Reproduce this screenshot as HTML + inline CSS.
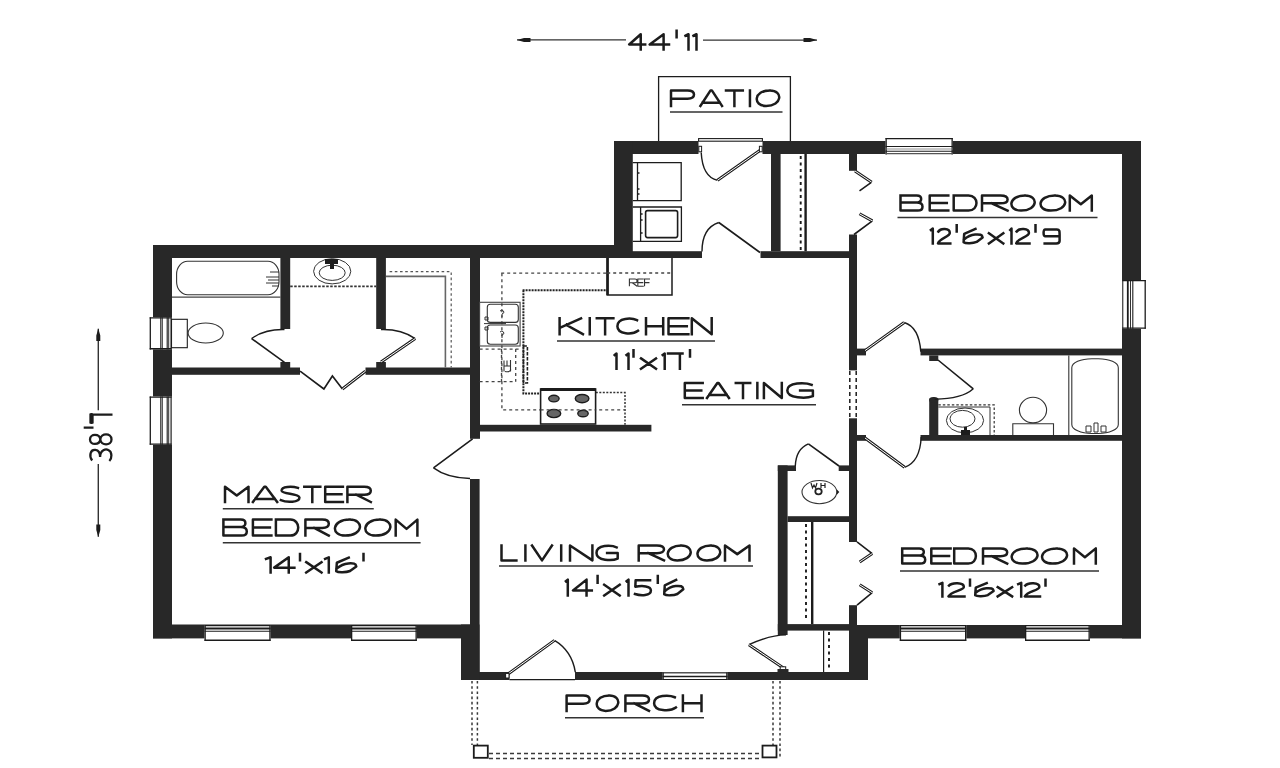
<!DOCTYPE html>
<html><head><meta charset="utf-8"><style>html,body{margin:0;padding:0;background:#fff;width:1280px;height:768px;overflow:hidden}svg{display:block}</style></head>
<body><svg width="1280" height="768" viewBox="0 0 1280 768"><g fill="#282828"><rect x="153" y="245" width="479" height="13"/><rect x="153" y="245" width="19" height="393.4"/><rect x="153" y="624.5" width="326" height="13.9"/><rect x="461" y="624.5" width="18.5" height="55.5"/><rect x="461" y="672" width="48.5" height="8"/><rect x="575" y="672" width="293" height="8"/><rect x="849" y="625" width="19" height="55"/><rect x="849" y="625" width="292" height="13.4"/><rect x="1122" y="141" width="19" height="497.4"/><rect x="614" y="141" width="84.5" height="13"/><rect x="762.5" y="141" width="378.5" height="13"/><rect x="614" y="141" width="18.8" height="117"/><rect x="280.4" y="258" width="9.8" height="71"/><rect x="376.2" y="258" width="9.7" height="71"/><rect x="280.4" y="362" width="9.8" height="6"/><rect x="376.2" y="362" width="9.7" height="6"/><rect x="172" y="367.5" width="128" height="7.3"/><rect x="365.5" y="367.5" width="104.5" height="7.3"/><rect x="470" y="258" width="10" height="180.8"/><rect x="470" y="479" width="9.6" height="201"/><rect x="470" y="424.8" width="181.4" height="6.7"/><rect x="632" y="251.2" width="70" height="6.8"/><rect x="760.5" y="251.2" width="96.5" height="6.8"/><rect x="771" y="154" width="9.6" height="97.2"/><rect x="849" y="154" width="8" height="16.8"/><rect x="849" y="234.5" width="8" height="135.9"/><rect x="849" y="418.3" width="8" height="123.7"/><rect x="849" y="605.2" width="8" height="19.8"/><rect x="920.5" y="348.6" width="201.5" height="6.8"/><rect x="857" y="348.6" width="9" height="6.8"/><rect x="920.5" y="435" width="201.5" height="5.8"/><rect x="857" y="435" width="9" height="5.8"/><rect x="929.2" y="398.5" width="9.1" height="36.5"/><rect x="929.2" y="355.4" width="9.1" height="5.6"/><rect x="777.8" y="465.4" width="9.8" height="169.6"/><rect x="777.8" y="465.4" width="18.2" height="5.6"/><rect x="838.7" y="465.4" width="10.3" height="5.6"/><rect x="787.6" y="516.2" width="61.4" height="5.8"/><rect x="777.8" y="624.1" width="71.2" height="6.5"/></g><rect x="929.2" y="397" width="9.1" height="6" rx="4" fill="#282828"/><rect x="885.5" y="138" width="67.3" height="16.4" fill="#fff"/><path d="M886.15 138V154.4M952.15 138V154.4" stroke="#1c1c1c" stroke-width="1.3"/><path d="M885.5 138.6H952.8" stroke="#1c1c1c" stroke-width="1.3"/><path d="M885.5 146.5H952.8" stroke="#1c1c1c" stroke-width="1.1"/><path d="M885.5 149H952.8" stroke="#777" stroke-width="0.8"/><path d="M885.5 151.3H952.8" stroke="#1c1c1c" stroke-width="1.1"/><path d="M885.5 153.7H952.8" stroke="#555" stroke-width="1.2"/><rect x="204.5" y="625" width="66.1" height="16" fill="#fff"/><path d="M205.15 625V641M269.95 625V641" stroke="#1c1c1c" stroke-width="1.3"/><path d="M204.5 625.6H270.6" stroke="#1c1c1c" stroke-width="1.1"/><path d="M204.5 628.4H270.6" stroke="#1c1c1c" stroke-width="2"/><path d="M204.5 631.3H270.6" stroke="#1c1c1c" stroke-width="1.1"/><path d="M204.5 640.2H270.6" stroke="#1c1c1c" stroke-width="1.4"/><rect x="351" y="625" width="65.8" height="16" fill="#fff"/><path d="M351.65 625V641M416.15 625V641" stroke="#1c1c1c" stroke-width="1.3"/><path d="M351 625.6H416.8" stroke="#1c1c1c" stroke-width="1.1"/><path d="M351 628.4H416.8" stroke="#1c1c1c" stroke-width="2"/><path d="M351 631.3H416.8" stroke="#1c1c1c" stroke-width="1.1"/><path d="M351 640.2H416.8" stroke="#1c1c1c" stroke-width="1.4"/><rect x="899.8" y="625" width="66.5" height="16" fill="#fff"/><path d="M900.45 625V641M965.65 625V641" stroke="#1c1c1c" stroke-width="1.3"/><path d="M899.8 625.6H966.3" stroke="#1c1c1c" stroke-width="1.1"/><path d="M899.8 628.4H966.3" stroke="#1c1c1c" stroke-width="2"/><path d="M899.8 631.3H966.3" stroke="#1c1c1c" stroke-width="1.1"/><path d="M899.8 640.2H966.3" stroke="#1c1c1c" stroke-width="1.4"/><rect x="1025" y="625" width="64.8" height="16" fill="#fff"/><path d="M1025.65 625V641M1089.15 625V641" stroke="#1c1c1c" stroke-width="1.3"/><path d="M1025 625.6H1089.8" stroke="#1c1c1c" stroke-width="1.1"/><path d="M1025 628.4H1089.8" stroke="#1c1c1c" stroke-width="2"/><path d="M1025 631.3H1089.8" stroke="#1c1c1c" stroke-width="1.1"/><path d="M1025 640.2H1089.8" stroke="#1c1c1c" stroke-width="1.4"/><rect x="662.5" y="672.4" width="65" height="7.6" fill="#fff"/><path d="M663.15 672.4V680M726.85 672.4V680" stroke="#1c1c1c" stroke-width="1.3"/><path d="M662.5 672.9H727.5" stroke="#1c1c1c" stroke-width="1"/><path d="M662.5 676.5H727.5" stroke="#1c1c1c" stroke-width="1.6"/><path d="M662.5 679.5H727.5" stroke="#1c1c1c" stroke-width="1"/><rect x="1122.2" y="280" width="23.6" height="48.8" fill="#fff"/><path d="M1122.2 280.65H1145.8M1122.2 328.15H1145.8" stroke="#1c1c1c" stroke-width="1.3"/><path d="M1122.8 280V328.8" stroke="#1c1c1c" stroke-width="1"/><path d="M1127.8 280V328.8" stroke="#1c1c1c" stroke-width="1.8"/><path d="M1130.5 280V328.8" stroke="#1c1c1c" stroke-width="0.9"/><path d="M1132.8 280V328.8" stroke="#1c1c1c" stroke-width="1.1"/><path d="M1145.2 280V328.8" stroke="#1c1c1c" stroke-width="1.3"/><rect x="149.7" y="317.2" width="21.9" height="32.2" fill="#fff"/><path d="M149.7 317.85H171.6M149.7 348.75H171.6" stroke="#1c1c1c" stroke-width="1.3"/><path d="M150.3 317.2V349.4" stroke="#1c1c1c" stroke-width="1.3"/><path d="M160.8 317.2V349.4" stroke="#1c1c1c" stroke-width="1.1"/><path d="M162.3 317.2V349.4" stroke="#1c1c1c" stroke-width="0.9"/><path d="M167.2 317.2V349.4" stroke="#1c1c1c" stroke-width="1.1"/><path d="M168.7 317.2V349.4" stroke="#1c1c1c" stroke-width="0.9"/><path d="M171 317.2V349.4" stroke="#1c1c1c" stroke-width="1"/><rect x="149.7" y="396.4" width="21.9" height="48.4" fill="#fff"/><path d="M149.7 397.05H171.6M149.7 444.15H171.6" stroke="#1c1c1c" stroke-width="1.3"/><path d="M150.3 396.4V444.8" stroke="#1c1c1c" stroke-width="1.3"/><path d="M160.8 396.4V444.8" stroke="#1c1c1c" stroke-width="1.1"/><path d="M162.3 396.4V444.8" stroke="#1c1c1c" stroke-width="0.9"/><path d="M167.2 396.4V444.8" stroke="#1c1c1c" stroke-width="1.1"/><path d="M168.7 396.4V444.8" stroke="#1c1c1c" stroke-width="0.9"/><path d="M171 396.4V444.8" stroke="#1c1c1c" stroke-width="1"/><path d="M760 252.5L718.8 222.5 M284.5 362.3L251.6 338.6 M300.1 371.2L323.9 389L332.4 376L342.4 389 M472.6 438.8L433.5 467.9 M938 360L973.3 388.8 M839 466L808.4 443.9 M871.7 182.2L859.5 190.8 M872.4 220.9L854 234.5 M857 541.9L872.2 553.6 M872.2 592.7L857 605.2" fill="none" stroke="#1c1c1c" stroke-width="1.6"/><path d="M717.5 180.3Q702.5 177 701.2 152.5 M718.8 222.5Q702 228 702 251.5 M251.6 338.6Q265 329 284.5 329.6 M415.2 338.6Q401 329 381 329.6 M433.5 467.9Q447 478 470 478.5 M904.2 322.5Q919 327 920.8 351.7 M973.3 388.8Q962 399 934.8 399.2 M904.6 467.3Q920 462 921.2 437 M808.4 443.9Q796 449 795.3 466 M748.9 644.7Q770 635 786 634.9 M554.5 640.4Q572 651 575.3 672.1" fill="none" stroke="#1c1c1c" stroke-width="1.4"/><path d="M760.5 150L717.5 180.3 M381 362L415.2 338.6 M342.4 389L365.4 371.2 M865 350.6L904.2 322.5 M865 438L904.6 467.3 M783.4 667.9L748.9 644.7 M508 674L554.5 640.4 M855 171L871.7 182.2 M859.5 213.8L872.4 220.9 M872.2 553.6L859.7 561.9 M859.7 584.8L872.2 592.7" fill="none" stroke="#1c1c1c" stroke-width="3"/><path d="M760.5 150L717.5 180.3 M381 362L415.2 338.6 M342.4 389L365.4 371.2 M865 350.6L904.2 322.5 M865 438L904.6 467.3 M783.4 667.9L748.9 644.7 M508 674L554.5 640.4 M855 171L871.7 182.2 M859.5 213.8L872.4 220.9 M872.2 553.6L859.7 561.9 M859.7 584.8L872.2 592.7" fill="none" stroke="#fff" stroke-width="1"/><g fill="#fff" stroke="#1c1c1c" stroke-width="1"><rect x="698.8" y="146.3" width="2.8" height="5.5"/><rect x="759.4" y="146.3" width="2.8" height="5.5"/><rect x="505.6" y="673.4" width="3.4" height="4.6"/><rect x="780.2" y="666.8" width="5.5" height="4.5"/></g><rect x="777.5" y="669" width="11" height="3.5" fill="#282828"/><rect x="698.6" y="138.6" width="63.8" height="2.6" fill="#fff" stroke="#1c1c1c" stroke-width="1.1"/><path d="M509.5 679.6H575" stroke="#1c1c1c" stroke-width="1.2"/><path d="M658.6 141V76.6H790.4V141" fill="none" stroke="#1c1c1c" stroke-width="1.3"/><path d="M517 39.9H626M703 40.1H817M98.3 328.7V410.3M98.3 464V536.7" stroke="#333" stroke-width="1.4"/><path d="M517 40L524 38H530.5V42H524Z M817 40.1L810 38.1H803.5V42.1H810Z M98.3 328.5L96.3 335.5V341H100.3V335.5Z M98.3 537L96.3 530V524.5H100.3V530Z" fill="#1c1c1c"/><path d="M472 681V745M477.4 681V745M773 681V745M780 681V757" fill="none" stroke="#3a3a3a" stroke-width="1.5" stroke-dasharray="2.6 2.6"/><path d="M489 753.4H762M489 758.4H762" fill="none" stroke="#3a3a3a" stroke-width="1.5" stroke-dasharray="4 3"/><g fill="#fff" stroke="#1c1c1c" stroke-width="1.8"><rect x="473.8" y="745.6" width="14" height="12.2"/><rect x="762.5" y="745.6" width="14" height="11.8"/></g><path d="M632.8 162.6H681.2V200.6H632.8M637.5 162.6V200.6M632.8 207H681.4V241.3H632.8M640.6 207V241.3" fill="none" stroke="#1c1c1c" stroke-width="1.3"/><rect x="645.6" y="210.6" width="32" height="27" rx="2" fill="none" stroke="#1c1c1c" stroke-width="1.6"/><path d="M637.5 173h2M637.5 189h2M637.5 194h2M640.6 214h2M640.6 220h2M640.6 233h2" stroke="#1c1c1c" stroke-width="1.5"/><path d="M607.2 258V295H672V258" fill="none" stroke="#1c1c1c" stroke-width="1.5"/><path d="M607.6 258V295" stroke="#1c1c1c" stroke-width="2.6"/><path d="M607.2 273H672M501.2 273.2H607" fill="none" stroke="#444" stroke-width="1.3" stroke-dasharray="3 3"/><path d="M386 276.4H445.4V367.5" fill="none" stroke="#666" stroke-width="1.6"/><path d="M389.6 271.6H451.2V367.5" fill="none" stroke="#555" stroke-width="1.2" stroke-dasharray="2.6 2.6"/><path d="M172 297.1H280.4" stroke="#444" stroke-width="1.3"/><rect x="176.6" y="261.3" width="102.4" height="33.4" rx="11" ry="13" fill="none" stroke="#333" stroke-width="1.1"/><path d="M266 277h13M268 280h11M266 283h13M270 272h9M272 286h7" stroke="#333" stroke-width="1"/><rect x="171.5" y="319.3" width="15.8" height="28.4" fill="#fff" stroke="#1c1c1c" stroke-width="1.1"/><ellipse cx="205.7" cy="333" rx="17.6" ry="10" fill="none" stroke="#333" stroke-width="1.1"/><path d="M290.2 286.4H376.2" stroke="#333" stroke-width="1.6" stroke-dasharray="2.5 1.5"/><ellipse cx="332.2" cy="271.3" rx="18.6" ry="12.6" fill="none" stroke="#333" stroke-width="1"/><ellipse cx="332.2" cy="272.8" rx="13" ry="7.6" fill="none" stroke="#333" stroke-width="1"/><path d="M325 259h13v5h-4v5h-4v-5h-5z" fill="#1c1c1c"/><path d="M522.6 290.2H607M523.4 290.2V393.5H540.2" fill="none" stroke="#222" stroke-width="2" stroke-dasharray="2 1"/><rect x="523.4" y="346" width="4" height="37" fill="none" stroke="#222" stroke-width="1.6" stroke-dasharray="3.5 1.5"/><path d="M501.9 273.2V409.9H624.5M479.6 349.1H520M479.6 381.7H515.7M501.5 349.1V381.7M515.7 349.1V381.7" fill="none" stroke="#444" stroke-width="1.3" stroke-dasharray="3 3"/><path d="M595.8 392.6H625V424.8" fill="none" stroke="#333" stroke-width="1.5" stroke-dasharray="2 1.5"/><rect x="479.6" y="302.3" width="40.5" height="43.7" fill="none" stroke="#444" stroke-width="1.1"/><rect x="487.3" y="304.2" width="31" height="18.2" rx="3" fill="none" stroke="#333" stroke-width="1.1"/><rect x="487.3" y="325" width="31" height="19.2" rx="3" fill="none" stroke="#333" stroke-width="1.1"/><path d="M484 323.6h22M485 317h3v3h-3zM485 327h3v3h-3z" fill="none" stroke="#333" stroke-width="1"/><path d="M500 311q2-2 3.5 0t-1.5 3v3M500 332q2-2 3.5 0t-1.5 3v3" fill="none" stroke="#333" stroke-width="1"/><path d="M504 371.5V360.5M504 366h6.5M507 360.5v6M510.5 360v11.5M505 371.5q5 1 6-2" fill="none" stroke="#333" stroke-width="1.1"/><rect x="540.6" y="389" width="55" height="35" fill="#fff" stroke="#1c1c1c" stroke-width="1.6"/><path d="M540.6 389.5H595.6" stroke="#1c1c1c" stroke-width="3"/><g fill="#666" stroke="#1c1c1c" stroke-width="1.4"><ellipse cx="553.9" cy="398.6" rx="5.2" ry="3.3"/><ellipse cx="582.1" cy="398.6" rx="6.8" ry="4.1"/><ellipse cx="553.9" cy="413.5" rx="6.8" ry="4.1"/><ellipse cx="583" cy="413.5" rx="5.2" ry="3.3"/></g><path d="M540.6 409.9H595.6" stroke="#444" stroke-width="1.1" stroke-dasharray="3 3"/><path d="M805.6 154V251.2" stroke="#1c1c1c" stroke-width="2.4"/><path d="M800.7 156V250" stroke="#1c1c1c" stroke-width="1.9" stroke-dasharray="3 3.5"/><path d="M812.2 522V624.1" stroke="#1c1c1c" stroke-width="2.4"/><path d="M806 524V621" stroke="#1c1c1c" stroke-width="1.9" stroke-dasharray="3 3.5"/><path d="M823.6 630.6V672" stroke="#1c1c1c" stroke-width="1.2"/><path d="M829 632V668" stroke="#1c1c1c" stroke-width="1.9" stroke-dasharray="3 3.5"/><path d="M849.8 371V418M856.2 371V418" stroke="#1c1c1c" stroke-width="1.5" stroke-dasharray="4 3"/><ellipse cx="819.4" cy="492.1" rx="17.4" ry="11.6" fill="none" stroke="#333" stroke-width="1.1"/><path d="M836.8 489.5l2.5 2.6l-2.5 2.6z" fill="#1c1c1c"/><path d="M811 483l1.5 5l1.5-3l1.5 3l1.5-5M821 483v5M825 483v5M821 485.5h4" fill="none" stroke="#222" stroke-width="1.2"/><ellipse cx="818.5" cy="491.5" rx="3.2" ry="2.8" fill="none" stroke="#222" stroke-width="1.8"/><path d="M938.3 404.8H994.2V435" fill="none" stroke="#333" stroke-width="1.2" stroke-dasharray="2.5 2"/><path d="M938.3 407H990V435" fill="none" stroke="#333" stroke-width="1"/><ellipse cx="965" cy="420.4" rx="18.6" ry="12.4" fill="none" stroke="#333" stroke-width="1"/><ellipse cx="962.5" cy="418.8" rx="12.5" ry="8.4" fill="none" stroke="#333" stroke-width="1"/><path d="M961 430h9v5h-9zM964 427h3v3h-3z" fill="#1c1c1c"/><ellipse cx="1033" cy="410.1" rx="13.6" ry="12.8" fill="none" stroke="#333" stroke-width="1.1"/><path d="M1012.8 435V423.8H1053.5V435" fill="none" stroke="#333" stroke-width="1.1"/><path d="M1068.8 355.4V435" stroke="#333" stroke-width="1.1"/><rect x="1071.8" y="358.7" width="46.5" height="74.8" rx="20" ry="9" fill="none" stroke="#333" stroke-width="1.1"/><path d="M1086 426h5v6h-5zM1094 423h4v9h-4zM1101 426h5v6h-5z" fill="none" stroke="#333" stroke-width="1"/><path d="M671 105.9 L671 90.4 L687.56 90.4 Q694 90.4 694 94.59 Q694 98.77 687.56 98.77 L671 98.77 M700.4 105.9 L710.55 90.4 L711.85 90.4 L722 105.9 M702.56 102.8 L719.84 102.8 M726 90.4 L742.8 90.4 M734.4 90.4 L734.4 105.9 M749.95 90.4 L749.95 105.9 M769.92 90.4 C783.36 90.4 782.4 105.9 766.08 105.9 C752.64 105.9 753.6 90.4 769.92 90.4 M900.5 195.5 L900.5 210.6 L917.66 210.6 Q922.5 210.6 922.5 206.67 Q922.5 202.6 916.78 202.6 L900.5 202.6 M900.5 195.5 L916.78 195.5 Q921.18 195.5 921.18 198.97 Q921.18 202.6 915.9 202.6 M948.3 195.5 L929.7 195.5 L929.7 210.6 L948.3 210.6 M929.7 203.05 L946.81 203.05 M953.7 195.5 L953.7 210.6 L968.52 210.6 C979.14 210.6 979.14 195.5 968.52 195.5 L953.7 195.5 M982 210.6 L982 195.5 L1000.43 195.5 Q1007.6 195.5 1007.6 199.43 Q1007.6 203.35 1000.43 203.35 L982 203.35 M991.73 203.35 L1007.6 210.6 M1025.04 195.5 C1038.99 195.5 1037.99 210.6 1021.06 210.6 C1007.11 210.6 1008.11 195.5 1025.04 195.5 M1054.95 195.5 C1069.68 195.5 1068.63 210.6 1050.75 210.6 C1036.02 210.6 1037.07 195.5 1054.95 195.5 M1069.8 210.6 L1069.8 195.5 L1080.8 204.26 L1091.8 195.5 L1091.8 210.6 M930.9 229.99 L932.8 228.5 L932.8 243.4 M938.37 231.48 C940.46 228.05 949.81 227.75 949.81 232.97 C949.81 236.84 939.85 237.74 938 243.4 L950.3 243.4 M956.7 225.22 L956.7 231.48 M975.48 228.8 L964.19 233.86 L963.6 242.21 C965.58 243.7 973.1 243.4 976.66 241.91 L982.6 237.44 C982.21 234.46 980.03 234.16 975.08 234.46 C971.12 234.76 967.16 236.69 963.99 239.53 M988.9 233.27 L1003.3 243.4 M1003.3 233.27 L988.9 243.4 M1010.2 229.99 L1011.5 228.5 L1011.5 243.4 M1016.6 231.48 C1018.86 228.05 1028.97 227.75 1028.97 232.97 C1028.97 236.84 1018.2 237.74 1016.2 243.4 L1029.5 243.4 M1035.5 225.22 L1035.5 231.48 M1059.6 236.25 L1045.32 236.25 C1043 236.25 1043 229.39 1045.32 229.39 L1056.94 229.39 C1059.6 229.39 1059.6 231.48 1059.6 234.46 L1059.6 241.02 C1059.6 243.4 1057.94 243.4 1056.28 243.4 L1044.66 243.4 M559.6 318.3 L559.6 334.2 M581.04 318.3 L560.3 327.52 M566.59 324.98 L582.9 334.2 M589.75 318.3 L589.75 334.2 M596.8 318.3 L613.4 318.3 M605.1 318.3 L605.1 334.2 M636.97 320.21 C631.82 317.66 617.4 317.35 617.4 326.25 C617.4 334.84 632.85 334.84 638 330.7 M646 318.3 L646 334.2 M663.2 318.3 L663.2 334.2 M646 326.25 L663.2 326.25 M688.4 318.3 L668.5 318.3 L668.5 334.2 L688.4 334.2 M668.5 326.25 L686.81 326.25 M691.8 334.2 L691.8 318.3 L711.7 334.2 L711.7 318.3 M614.7 355.03 L616.5 353.5 L616.5 368.8 M626.5 355.03 L628.5 353.5 L628.5 368.8 M633.5 350.13 L633.5 356.56 M641 358.4 L656 368.8 M656 358.4 L641 368.8 M662.7 355.03 L664.7 353.5 L664.7 368.8 M668 353.5 L682.5 353.5 M679.89 353.5 L679.89 368.8 M690 350.13 L690 356.56 M702.7 383 L684.8 383 L684.8 398 L702.7 398 M684.8 390.5 L701.27 390.5 M707 398 L717.34 383 L718.66 383 L729 398 M709.2 395 L726.8 395 M735.8 383 L750.2 383 M743 383 L743 398 M757.35 383 L757.35 398 M763.9 398 L763.9 383 L781.8 398 L781.8 383 M811.62 384.8 C805.22 382.4 787.3 382.1 787.3 390.5 C787.3 398.6 806.5 398.6 812.9 396.2 L812.9 390.5 L800.1 390.5 M225 502 L225 486.7 L236.75 495.57 L248.5 486.7 L248.5 502 M252.9 502 L264.32 486.7 L265.78 486.7 L277.2 502 M255.33 498.94 L274.77 498.94 M297.92 487.92 C292 486.09 281.27 486.39 281.64 490.68 C282.38 494.35 298.66 493.13 299.4 497.41 C299.77 502.61 286.45 502.61 280.9 500.16 M304.3 486.7 L320.3 486.7 M312.3 486.7 L312.3 502 M342.9 486.7 L325.2 486.7 L325.2 502 L342.9 502 M325.2 494.35 L341.48 494.35 M347.4 502 L347.4 486.7 L364.25 486.7 Q370.8 486.7 370.8 490.68 Q370.8 494.66 364.25 494.66 L347.4 494.66 M356.29 494.66 L370.8 502 M223.4 519.6 L223.4 535.6 L241.65 535.6 Q246.8 535.6 246.8 531.44 Q246.8 527.12 240.72 527.12 L223.4 527.12 M223.4 519.6 L240.72 519.6 Q245.4 519.6 245.4 523.28 Q245.4 527.12 239.78 527.12 M271.4 519.6 L252.9 519.6 L252.9 535.6 L271.4 535.6 M252.9 527.6 L269.92 527.6 M275.9 519.6 L275.9 535.6 L290.42 535.6 C300.83 535.6 300.83 519.6 290.42 519.6 L275.9 519.6 M305.4 535.6 L305.4 519.6 L322.25 519.6 Q328.8 519.6 328.8 523.76 Q328.8 527.92 322.25 527.92 L305.4 527.92 M314.29 527.92 L328.8 535.6 M349.59 519.6 C364.54 519.6 363.47 535.6 345.31 535.6 C330.36 535.6 331.43 519.6 349.59 519.6 M379.99 519.6 C394.94 519.6 393.87 535.6 375.71 535.6 C360.76 535.6 361.83 519.6 379.99 519.6 M395.7 535.6 L395.7 519.6 L406.55 528.88 L417.4 519.6 L417.4 535.6 M266 558.82 L270.6 557.3 L270.6 572.5 M288.74 572.5 L288.74 557.3 L274.2 567.64 L294.4 567.64 M300 553.96 L300 560.34 M306.2 562.16 L321.5 572.5 M321.5 562.16 L306.2 572.5 M325.1 558.82 L328.8 557.3 L328.8 572.5 M348.76 557.6 L336.85 562.77 L336.22 571.28 C338.31 572.8 346.25 572.5 350.01 570.98 L356.28 566.42 C355.86 563.38 353.56 563.08 348.34 563.38 C344.16 563.68 339.98 565.66 336.64 568.55 M363.5 553.96 L363.5 560.34 M501.5 545.5 L501.5 560.4 L516.4 560.4 M525.4 545.5 L525.4 560.4 M532 545.5 L542 560.4 L552 545.5 M561.2 545.5 L561.2 560.4 M570 560.4 L570 545.5 L592.4 560.4 L592.4 545.5 M616.64 547.29 C611.34 544.9 596.5 544.61 596.5 552.95 C596.5 561 612.4 561 617.7 558.61 L617.7 552.95 L607.1 552.95 M638.7 560.4 L638.7 545.5 L656.92 545.5 Q664 545.5 664 549.37 Q664 553.25 656.92 553.25 L638.7 553.25 M648.31 553.25 L664 560.4 M681.21 545.5 C694.93 545.5 693.95 560.4 677.29 560.4 C663.57 560.4 664.55 545.5 681.21 545.5 M710.79 545.5 C724.4 545.5 723.43 560.4 706.91 560.4 C693.3 560.4 694.27 545.5 710.79 545.5 M725 560.4 L725 545.5 L737.25 554.14 L749.5 545.5 L749.5 560.4 M565.9 581.2 L567.8 579.6 L567.8 595.6 M586.54 595.6 L586.54 579.6 L573 590.48 L591.8 590.48 M597.6 576.08 L597.6 582.8 M604.2 584.72 L619.7 595.6 M619.7 584.72 L604.2 595.6 M626.6 581.2 L628.5 579.6 L628.5 595.6 M650.07 580.24 L635.63 580.24 L635.3 586.8 C642.6 585.36 650.9 586 650.9 590.48 C650.9 595.92 640.94 595.92 634.96 594 M657.8 576.08 L657.8 582.8 M676.14 579.92 L664.79 585.36 L664.2 594.32 C666.19 595.92 673.75 595.6 677.33 594 L683.3 589.2 C682.9 586 680.72 585.68 675.74 586 C671.76 586.32 667.78 588.4 664.6 591.44 M902.2 548.4 L902.2 563.6 L920.14 563.6 Q925.2 563.6 925.2 559.65 Q925.2 555.54 919.22 555.54 L902.2 555.54 M902.2 548.4 L919.22 548.4 Q923.82 548.4 923.82 551.9 Q923.82 555.54 918.3 555.54 M950.6 548.4 L931.3 548.4 L931.3 563.6 L950.6 563.6 M931.3 556 L949.06 556 M954.2 548.4 L954.2 563.6 L968.3 563.6 C978.41 563.6 978.41 548.4 968.3 548.4 L954.2 548.4 M983 563.6 L983 548.4 L1000.42 548.4 Q1007.2 548.4 1007.2 552.35 Q1007.2 556.3 1000.42 556.3 L983 556.3 M992.2 556.3 L1007.2 563.6 M1026.81 548.4 C1042.26 548.4 1041.16 563.6 1022.39 563.6 C1006.94 563.6 1008.04 548.4 1026.81 548.4 M1056.69 548.4 C1071.64 548.4 1070.57 563.6 1052.41 563.6 C1037.46 563.6 1038.53 548.4 1056.69 548.4 M1074 563.6 L1074 548.4 L1084.9 557.22 L1095.8 548.4 L1095.8 563.6 M939.5 584.16 L942.4 582.8 L942.4 596.4 M948.98 585.52 C951.7 582.39 963.86 582.12 963.86 586.88 C963.86 590.42 950.9 591.23 948.5 596.4 L964.5 596.4 M970 579.81 L970 585.52 M986.7 583.07 L975.76 587.7 L975.18 595.31 C977.1 596.67 984.4 596.4 987.86 595.04 L993.62 590.96 C993.23 588.24 991.12 587.97 986.32 588.24 C982.48 588.51 978.64 590.28 975.57 592.86 M997.7 587.15 L1012.1 596.4 M1012.1 587.15 L997.7 596.4 M1018.2 584.16 L1021.2 582.8 L1021.2 596.4 M1025.26 585.52 C1027.84 582.39 1039.39 582.12 1039.39 586.88 C1039.39 590.42 1027.08 591.23 1024.8 596.4 L1040 596.4 M1045.5 579.81 L1045.5 585.52 M566.6 710.9 L566.6 695.4 L583.16 695.4 Q589.6 695.4 589.6 699.58 Q589.6 703.77 583.16 703.77 L566.6 703.77 M609.34 695.4 C622.22 695.4 621.3 710.9 605.66 710.9 C592.78 710.9 593.7 695.4 609.34 695.4 M625.4 710.9 L625.4 695.4 L642.39 695.4 Q649 695.4 649 699.43 Q649 703.46 642.39 703.46 L625.4 703.46 M634.37 703.46 L649 710.9 M674.81 697.26 C669.36 694.78 654.1 694.47 654.1 703.15 C654.1 711.52 670.45 711.52 675.9 707.49 M682.9 695.4 L682.9 710.9 M701.5 695.4 L701.5 710.9 M682.9 703.15 L701.5 703.15 M640.72 49.4 L640.72 34.2 L629.2 44.54 L645.2 44.54 M663.6 49.4 L663.6 34.2 L649.7 44.54 L669 44.54 M676.6 30.86 L676.6 37.24 M685.5 35.72 L688.5 34.2 L688.5 49.4 M693.5 35.72 L696.5 34.2 L696.5 49.4" fill="none" stroke="#1c1c1c" stroke-width="2.5" stroke-linejoin="round" stroke-linecap="square"/><path d="M629.4 286.3 L629.4 279 L634.94 279 Q637.09 279 637.09 280.9 Q637.09 282.8 634.94 282.8 L629.4 282.8 M632.32 282.8 L637.09 286.3 M643.8 279 L637.84 279 L637.84 286.3 L643.8 286.3 M637.84 282.65 L643.32 282.65 M650 279 L644.54 279 L644.54 286.3 M644.54 282.65 L649.45 282.65" fill="none" stroke="#333" stroke-width="1.1"/><g transform="translate(89 462) rotate(-90)"><path d="M1.58 3.15 C5.64 -0.07 12.6 1 12.02 6.38 C11.44 10.68 6.8 11.1 5.06 11.1 C12.6 11.1 13.18 17.12 12.02 19.27 C10.28 23.57 3.32 22.93 1 20.35 M22.6 11.32 C16.6 10.68 16.6 1 22.6 1 C28.6 1 28.6 10.68 22.6 11.32 C16 11.75 16 22.5 22.6 22.5 C29.2 22.5 29.2 11.75 22.6 11.32 M38 2.5H49 M47.3 2.5V23.5 M38.5 1.5H48.5 M38.5 3.5H48.5 M34.3 -5.3V4.5" fill="none" stroke="#1c1c1c" stroke-width="2.3"/></g><path d="M670 112.1H782.5 M897.5 217.5H1097.5 M557 341H715 M682 404.7H816 M222.8 508.75H373.75 M222.8 542.8H420.6 M499 566H753 M900 571H1099 M565 717.8H704" stroke="#333" stroke-width="1.5" fill="none"/></svg></body></html>
